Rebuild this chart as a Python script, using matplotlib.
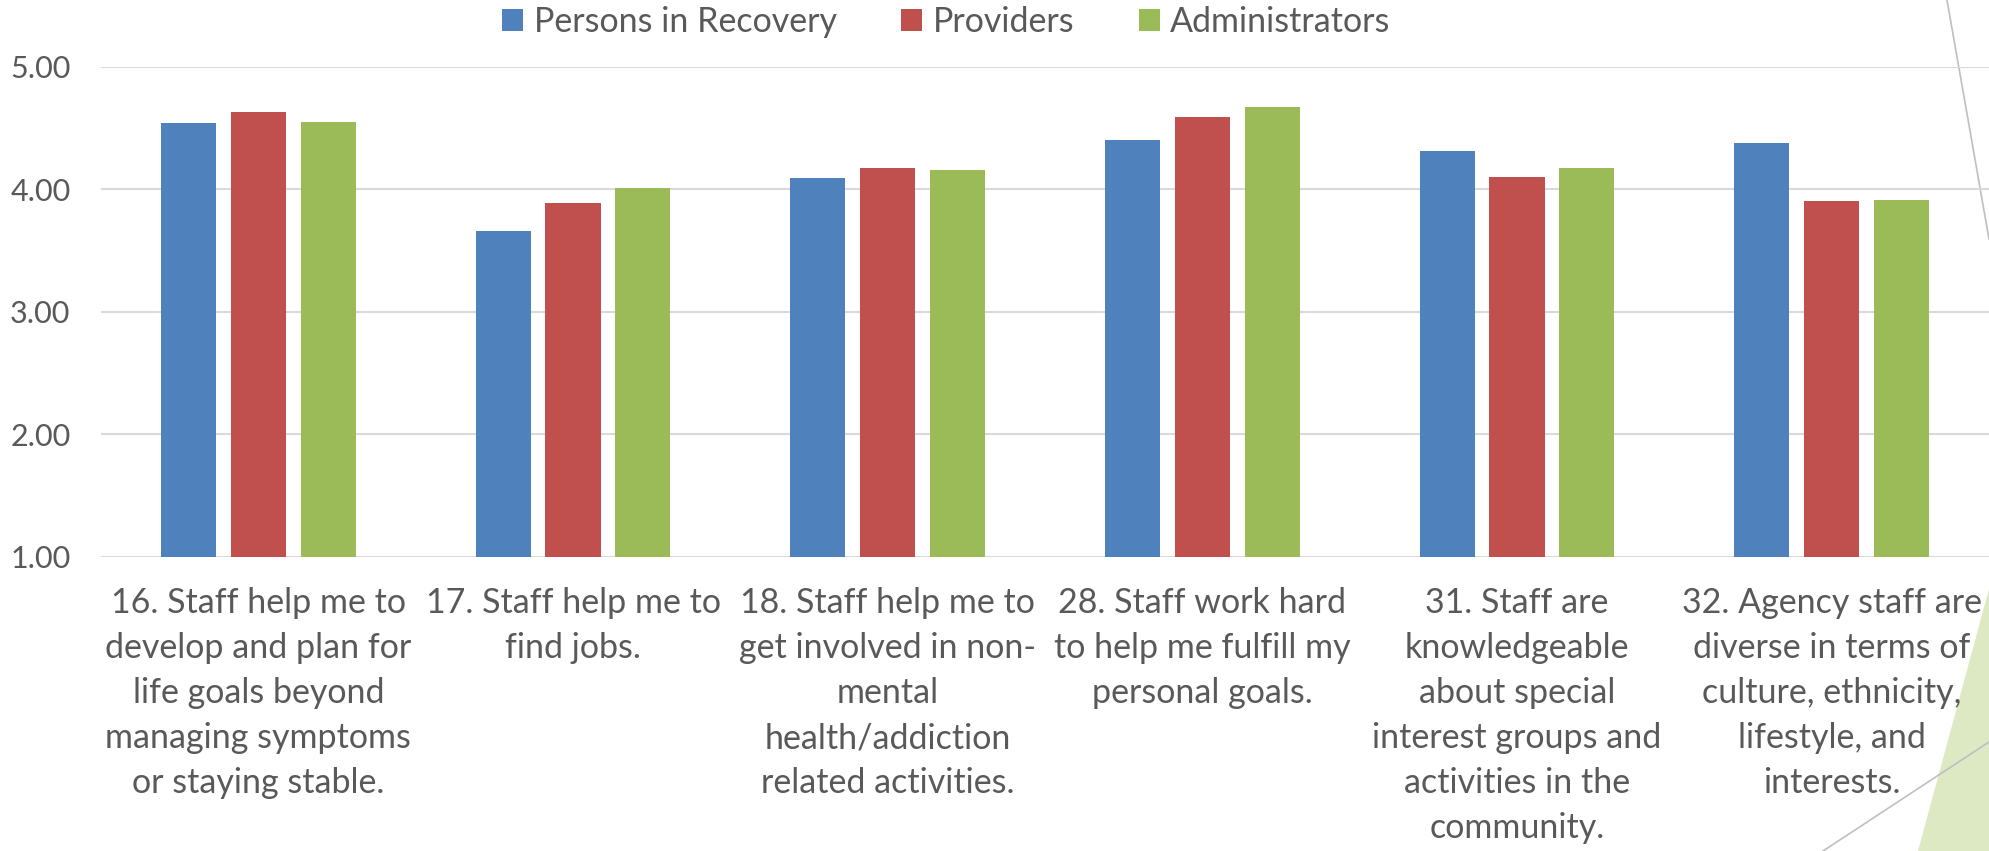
import numpy as np
import matplotlib.pyplot as plt
from matplotlib.patches import Polygon
from matplotlib.lines import Line2D

plt.rcParams['font.family'] = ['Lato', 'DejaVu Sans']

# Data
categories = [
    "16. Staff help me to\ndevelop and plan for\nlife goals beyond\nmanaging symptoms\nor staying stable.",
    "17. Staff help me to\nfind jobs.",
    "18. Staff help me to\nget involved in non-\nmental\nhealth/addiction\nrelated activities.",
    "28. Staff work hard\nto help me fulfill my\npersonal goals.",
    "31. Staff are\nknowledgeable\nabout special\ninterest groups and\nactivities in the\ncommunity.",
    "32. Agency staff are\ndiverse in terms of\nculture, ethnicity,\nlifestyle, and\ninterests.",
]
series_names = ["Persons in Recovery", "Providers", "Administrators"]
recovery = [4.54, 3.66, 4.09, 4.40, 4.31, 4.38]
providers = [4.63, 3.89, 4.17, 4.59, 4.10, 3.90]
administrators = [4.55, 4.01, 4.16, 4.67, 4.17, 3.91]
yticks = [1, 2, 3, 4, 5]

colors = ['#4F81BD', '#C0504D', '#9BBB59']
text_col = '#595959'
W, H = 1989, 851

fig = plt.figure(figsize=(W / 100, H / 100), dpi=100)

# slide decoration behind everything
deco = fig.add_axes([0, 0, 1, 1], zorder=0)
deco.set_xlim(0, W)
deco.set_ylim(H, 0)
deco.axis('off')
deco.add_patch(Polygon([(1918, 851), (1989, 589), (1989, 851)], closed=True,
                       facecolor='#DCE9C3', edgecolor='none'))
deco.add_line(Line2D([1947, 1989], [0, 239], color='#BFBFBF', lw=1.2))
deco.add_line(Line2D([1823, 1989], [851, 742], color='#BFBFBF', lw=1.2))

ax = fig.add_axes([101 / W, 1 - 556.7 / H, 1888 / W, 490 / H], zorder=1)
ax.patch.set_alpha(0)

x = np.arange(len(categories))
bw = 0.175
step = 0.222
for i, (vals, name) in enumerate(zip([recovery, providers, administrators], series_names)):
    ax.bar(x + (i - 1) * step, np.array(vals) - 1, bw, bottom=1, color=colors[i],
           label=name, zorder=3)

ax.set_xlim(-0.5, len(categories) - 0.5)
ax.set_ylim(1, 5)
ax.set_yticks(yticks)
ax.set_yticklabels([f"{v:.2f}" for v in yticks], fontsize=22, color=text_col)
ax.grid(axis='y', color='#D9D9D9', lw=1.5, zorder=0)
ax.set_axisbelow(True)
for s in ax.spines.values():
    s.set_visible(False)
ax.tick_params(axis='y', length=0, pad=22)
ax.tick_params(axis='x', length=0, pad=22)
ax.set_xticks(x)
ax.set_xticklabels(categories, fontsize=24.5, color=text_col, linespacing=1.5,
                   va='top', ha='center')

leg = fig.legend(loc='center', bbox_to_anchor=(946.5 / W, 1 - 22 / H), ncol=3,
                 frameon=False, fontsize=24.5, handlelength=0.62, handleheight=0.62,
                 handletextpad=0.3, columnspacing=1.9, borderpad=0)
for t in leg.get_texts():
    t.set_color(text_col)

fig.savefig('out.png', dpi=100)
